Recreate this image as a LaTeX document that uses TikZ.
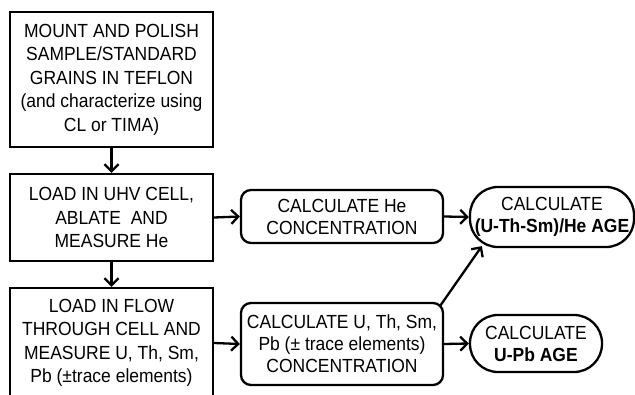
\documentclass[tikz,border=0pt]{standalone}
\usepackage{fontspec}
\setmainfont{Liberation Sans}[FakeStretch=0.92]
\usetikzlibrary{arrows.meta,calc}
\begin{document}
\begin{tikzpicture}[x=1pt,y=-1pt,
  every node/.style={font=\fontsize{19}{23.5}\selectfont, align=center, inner sep=0pt},
  sqbox/.style={draw, line width=2.3pt, rectangle},
  rbox/.style={draw, line width=2.3pt, rectangle, rounded corners=10pt},
  agebox/.style={draw, line width=2.3pt, rectangle, rounded corners=28pt},
  arr/.style={line width=2.3pt, -{Straight Barb[length=7pt,width=14pt,line width=2.3pt]}}]
\useasboundingbox (0,0) rectangle (635,395);
\node[sqbox, minimum width=203pt, minimum height=135pt] (b1) at (111.5,79.5)
  {MOUNT AND POLISH\\SAMPLE/STANDARD\\GRAINS IN TEFLON\\(and characterize using\\CL or TIMA)};
\node[sqbox, minimum width=203pt, minimum height=87pt] (b2) at (111.5,217.5)
  {LOAD IN UHV CELL,\\ABLATE\ \ AND\\MEASURE He};
\node[sqbox, minimum width=203pt, minimum height=110pt] (b3) at (111.5,343)
  {LOAD IN FLOW\\THROUGH CELL AND\\MEASURE U, Th, Sm,\\Pb (±trace elements)};
\node[rbox, minimum width=202pt, minimum height=53pt, font=\fontsize{19}{22}\selectfont] (che) at (342,216.5)
  {CALCULATE He\\CONCENTRATION};
\node[rbox, minimum width=202pt, minimum height=82pt, font=\fontsize{19}{22}\selectfont] (cu) at (342,344)
  {CALCULATE U, Th, Sm,\\Pb (± trace elements)\\CONCENTRATION};
\node[agebox, minimum width=164pt, minimum height=60pt, font=\fontsize{19}{22}\selectfont] (a1) at (552,217)
  {CALCULATE\\\textbf{(U-Th-Sm)/He AGE}};
\node[agebox, minimum width=132pt, minimum height=57pt, font=\fontsize{19}{22}\selectfont] (a2) at (536,343.5)
  {CALCULATE\\\textbf{U-Pb AGE}};
\draw[arr] (b1.south) -- (b2.north);
\draw[arr] (b2.south) -- (b3.north);
\draw[arr] (b2.east) -- (che.west);
\draw[arr] (b3.east) -- (cu.west);
\draw[arr] (che.east) -- (a1.west);
\draw[arr] (cu.east) -- (a2.west);
\coordinate (ds) at ($(cu.north east)+(-4,4)$);
\coordinate (de) at ($(a1.south west)+(13,-2)$);
\draw[arr] (ds) -- (de);
\end{tikzpicture}
\end{document}
